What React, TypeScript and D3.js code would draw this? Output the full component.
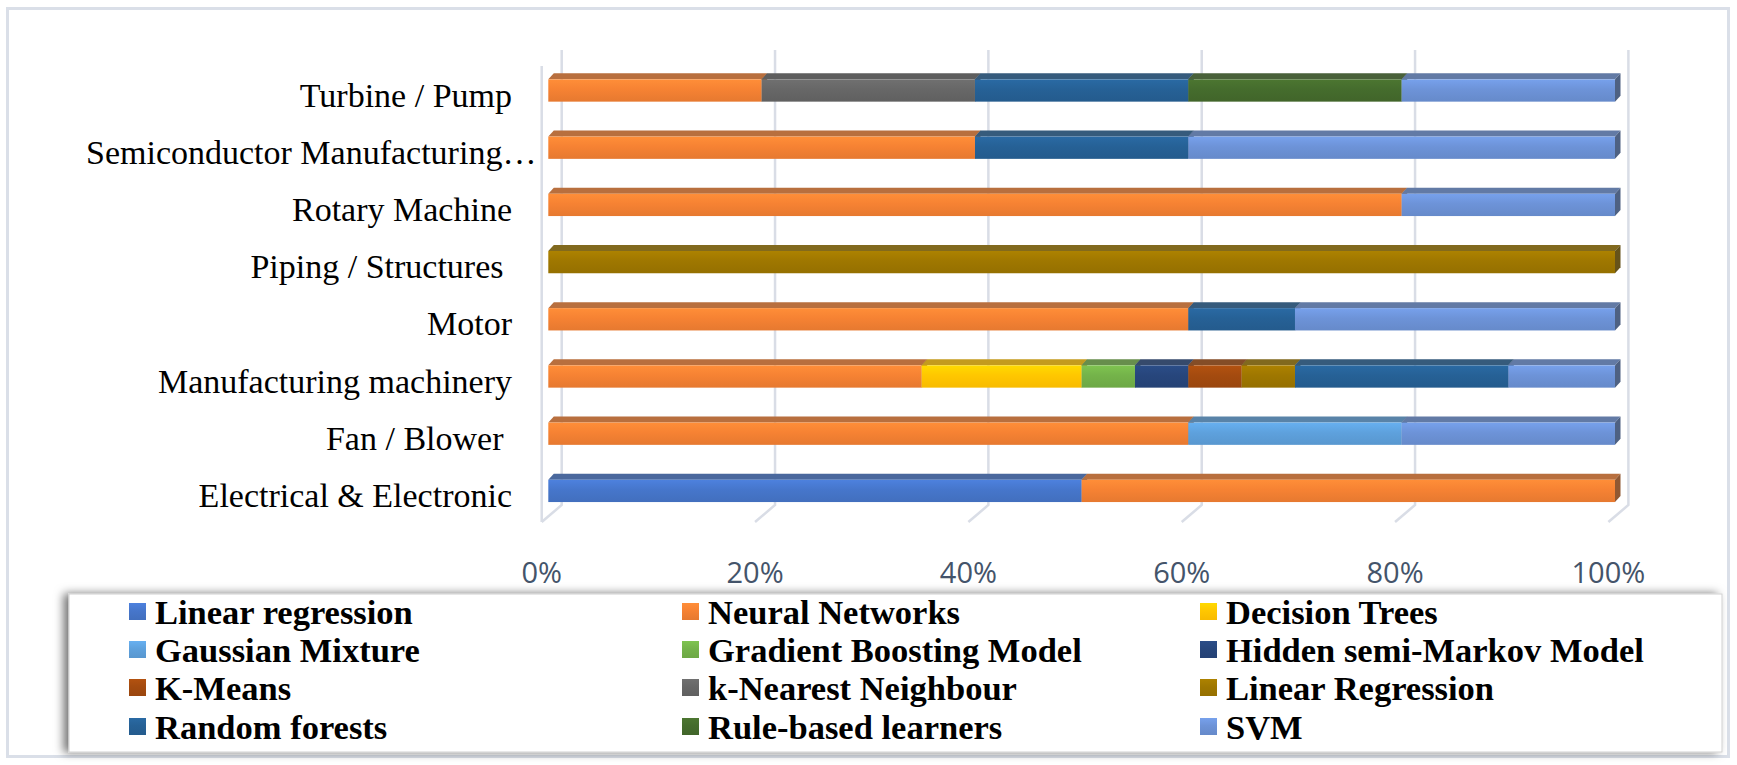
import React, { useRef, useEffect } from 'react';
import * as d3 from 'd3';

const W = 1737;
const H = 765;

// categories, top to bottom as they appear
const categories = [
  'Turbine / Pump',
  'Semiconductor Manufacturing…',
  'Rotary Machine',
  'Piping / Structures ',
  'Motor',
  'Manufacturing machinery',
  'Fan / Blower ',
  'Electrical & Electronic',
];

const seriesNames = [
  'Linear regression',
  'Neural Networks',
  'Decision Trees',
  'Gaussian Mixture',
  'Gradient Boosting Model',
  'Hidden semi-Markov Model',
  'K-Means',
  'k-Nearest Neighbour',
  'Linear Regression',
  'Random forests',
  'Rule-based learners',
  'SVM',
];

const seriesColors = [
  '#4472C4', '#ED7D31', '#FFC000', '#5B9BD5', '#70AD47', '#264478',
  '#9E480E', '#636363', '#997300', '#255E91', '#43682B', '#698ED0',
];

// share (%) per category, same order as categories
const linearRegressionLow = [0, 0, 0, 0, 0, 0, 0, 50];
const neuralNetworks = [20, 40, 80, 0, 60, 35, 60, 50];
const decisionTrees = [0, 0, 0, 0, 0, 15, 0, 0];
const gaussianMixture = [0, 0, 0, 0, 0, 0, 20, 0];
const gradientBoosting = [0, 0, 0, 0, 0, 5, 0, 0];
const hiddenSemiMarkov = [0, 0, 0, 0, 0, 5, 0, 0];
const kMeans = [0, 0, 0, 0, 0, 5, 0, 0];
const kNearest = [20, 0, 0, 0, 0, 0, 0, 0];
const linearRegressionUp = [0, 0, 0, 100, 0, 5, 0, 0];
const randomForests = [20, 20, 0, 0, 10, 20, 0, 0];
const ruleBased = [20, 0, 0, 0, 0, 0, 0, 0];
const svm = [20, 40, 20, 0, 30, 10, 20, 0];

const seriesValues = [
  linearRegressionLow, neuralNetworks, decisionTrees, gaussianMixture,
  gradientBoosting, hiddenSemiMarkov, kMeans, kNearest,
  linearRegressionUp, randomForests, ruleBased, svm,
];

const xTicks = [0, 20, 40, 60, 80, 100];

const App: React.FC = () => {
  const svgRef = useRef<SVGSVGElement>(null);

  useEffect(() => {
    document.body.style.margin = '0';
    if (!svgRef.current) return;
    const svg = d3.select(svgRef.current);
    svg.selectAll('*').remove();

    const serif = "'Liberation Serif', 'Times New Roman', serif";

    // 3D offsets
    const depthDx = 5.5;
    const depthDy = -6;
    const wallDx = 13.4;
    const floorDx = -6.6;
    const wallTop = 50;
    const wallBottom = 505;
    const floorFront = 522;

    const x = d3.scaleLinear().domain([0, 100]).range([548.3, 1615]);
    const y = d3.scalePoint<string>().domain(categories).range([90.5, 490.9]);
    const barH = 22.3;

    const defs = svg.append('defs');
    seriesColors.forEach((c, i) => {
      const g = defs.append('linearGradient')
        .attr('id', `grad-${i}`)
        .attr('x1', 0).attr('y1', 0).attr('x2', 0).attr('y2', 1);
      g.append('stop').attr('offset', '0%').attr('stop-color', d3.color(c)!.brighter(0.35).formatHex());
      g.append('stop').attr('offset', '45%').attr('stop-color', d3.color(c)!.brighter(0.1).formatHex());
      g.append('stop').attr('offset', '100%').attr('stop-color', d3.color(c)!.darker(0.08).formatHex());
    });
    const shadow = defs.append('filter').attr('id', 'legend-shadow')
      .attr('x', '-5%').attr('y', '-30%').attr('width', '110%').attr('height', '160%');
    shadow.append('feDropShadow')
      .attr('dx', -5).attr('dy', 0).attr('stdDeviation', 5)
      .attr('flood-color', '#000').attr('flood-opacity', 0.55);

    // outer frame
    svg.append('rect')
      .attr('x', 7.5).attr('y', 8.5).attr('width', 1721).attr('height', 748)
      .attr('fill', '#fff').attr('stroke', '#dadfe8').attr('stroke-width', 3);

    // walls & floor gridlines
    const grid = svg.append('g')
      .attr('stroke', '#d9dde6').attr('stroke-width', 2.5).attr('fill', 'none');
    grid.selectAll('path.wall')
      .data(xTicks)
      .enter()
      .append('path')
      .attr('class', 'wall')
      .attr('d', d => `M${x(d) + wallDx},${wallTop}V${wallBottom}L${x(d) + floorDx},${floorFront}`);
    grid.append('line')
      .attr('x1', x(0) + floorDx).attr('x2', x(0) + floorDx)
      .attr('y1', 66).attr('y2', floorFront);

    // bars
    const rows = categories.map((c, ci) => {
      const r: Record<string, any> = { category: c };
      seriesNames.forEach((s, si) => { r[s] = seriesValues[si][ci]; });
      return r;
    });
    const stacked = d3.stack<Record<string, any>>().keys(seriesNames)(rows);

    const bars = svg.append('g');
    stacked.forEach((layer, si) => {
      const base = seriesColors[si];
      const topColor = d3.interpolateRgb(base, '#555555')(0.35);
      const sideColor = d3.interpolateRgb(base, '#333333')(0.5);
      layer.forEach((seg, ci) => {
        if (seg[1] - seg[0] <= 0) return;
        const x0 = x(seg[0]);
        const x1 = x(seg[1]);
        const yc = y(categories[ci])!;
        const yt = yc - barH / 2;
        const yb = yc + barH / 2;
        bars.append('path')
          .attr('d', `M${x0},${yt}L${x0 + depthDx},${yt + depthDy}L${x1 + depthDx},${yt + depthDy}L${x1},${yt}Z`)
          .attr('fill', topColor);
        bars.append('path')
          .attr('d', `M${x1},${yt}L${x1 + depthDx},${yt + depthDy}L${x1 + depthDx},${yb + depthDy}L${x1},${yb}Z`)
          .attr('fill', sideColor);
        bars.append('rect')
          .attr('x', x0).attr('y', yt)
          .attr('width', x1 - x0).attr('height', barH)
          .attr('fill', `url(#grad-${si})`);
      });
    });

    // category labels
    const labelRight = 512;
    const labelLeft = 86;
    const labels = svg.append('g')
      .attr('font-family', serif).attr('font-size', 34).attr('fill', '#000');
    categories.forEach(c => {
      const t = labels.append('text')
        .attr('x', labelRight)
        .attr('y', y(c)! + 16)
        .attr('text-anchor', 'end')
        .style('white-space', 'pre')
        .text(c);
      const node = t.node() as SVGTextElement;
      if (node.getComputedTextLength() > labelRight - labelLeft) {
        t.attr('text-anchor', 'start').attr('x', labelLeft);
      }
    });

    // x tick labels
    svg.append('g')
      .attr('font-family', "'Open Sans', 'Noto Sans', sans-serif")
      .attr('font-size', 29).attr('fill', '#44546a')
      .selectAll('text')
      .data(xTicks)
      .enter()
      .append('text')
      .attr('x', d => x(d) + floorDx)
      .attr('y', 583)
      .attr('text-anchor', 'middle')
      .text(d => `${d}%`);

    // legend
    const legendBox = { x: 69, y: 594, w: 1653, h: 158 };
    svg.append('rect')
      .attr('x', legendBox.x).attr('y', legendBox.y)
      .attr('width', legendBox.w).attr('height', legendBox.h)
      .attr('fill', '#fff').attr('stroke', '#d0d0d0').attr('stroke-width', 1)
      .attr('filter', 'url(#legend-shadow)');

    const colX = [129, 682, 1200];
    const rowY = [612, 650, 688, 727];
    const legend = svg.append('g');
    seriesNames.forEach((s, i) => {
      const cx = colX[i % 3];
      const cy = rowY[Math.floor(i / 3)];
      legend.append('rect')
        .attr('x', cx).attr('y', cy - 9)
        .attr('width', 17).attr('height', 17)
        .attr('fill', `url(#grad-${i})`);
      legend.append('text')
        .attr('x', cx + 26).attr('y', cy + 12)
        .attr('font-family', serif).attr('font-size', 34.5)
        .attr('font-weight', 'bold').attr('fill', '#000')
        .text(s);
    });
  }, []);

  return (
    <svg
      ref={svgRef}
      width={W}
      height={H}
      style={{ display: 'block' }}
      aria-label="Machine learning methods by equipment category"
    />
  );
};

export default App;
